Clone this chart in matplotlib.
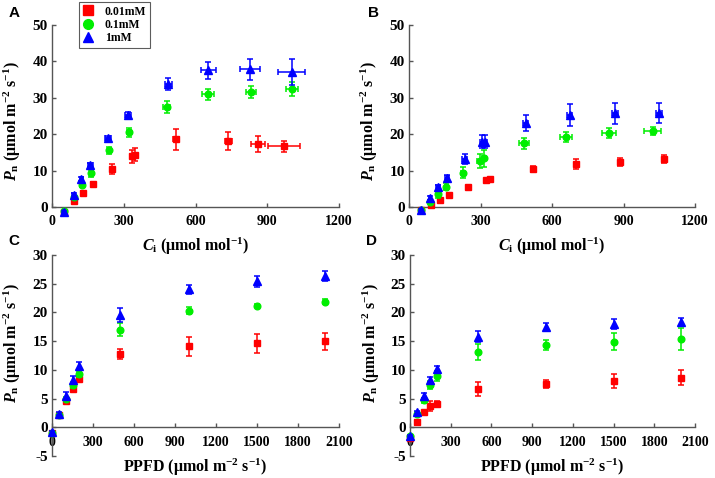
import matplotlib
matplotlib.use("Agg")
import matplotlib.pyplot as plt
from matplotlib.lines import Line2D

plt.rcParams['font.family'] = ['Liberation Serif', 'DejaVu Serif']
plt.rcParams['font.weight'] = 'bold'
plt.rcParams['axes.labelweight'] = 'bold'
plt.rcParams['axes.unicode_minus'] = False
plt.rcParams['mathtext.fontset'] = 'custom'
plt.rcParams['mathtext.rm'] = 'Liberation Serif:bold'
plt.rcParams['mathtext.it'] = 'Liberation Serif:italic:bold'
plt.rcParams['mathtext.bf'] = 'Liberation Serif:bold'
plt.rcParams['mathtext.default'] = 'rm'

series_names = ['0.01mM', '0.1mM', '1mM']
colors = ['#ff0000', '#00ee00', '#0000ff']
markers = ['s', 'o', '^']

# Panel A (Ci response)
ciA_red = [50, 94, 130, 170, 251, 335, 349, 520, 737, 860, 970]
pnA_red = [-1.4, 1.7, 4.0, 6.3, 10.5, 13.9, 14.4, 18.6, 18.1, 17.4, 16.7]
pnA_red_err = [0.3, 0.3, 0.3, 0.5, 1.3, 1.8, 1.8, 2.9, 2.4, 2.2, 1.5]
ciA_red_err = [3, 3, 3, 4, 5, 8, 8, 12, 15, 30, 66]

ciA_green = [50, 92, 126, 163, 240, 321, 480, 651, 832, 1003]
pnA_green = [-1.2, 2.8, 6.1, 9.3, 15.6, 20.5, 27.4, 31.0, 31.6, 32.4]
pnA_green_err = [0.3, 0.3, 0.5, 1.0, 1.0, 1.2, 1.6, 1.5, 1.6, 1.9]
ciA_green_err = [3, 3, 4, 5, 6, 8, 15, 25, 22, 25]

ciA_blue = [50, 90, 123, 160, 234, 318, 487, 654, 828, 1002]
pnA_blue = [-1.3, 3.2, 7.7, 11.6, 19.0, 25.4, 33.8, 37.6, 37.8, 37.1]
pnA_blue_err = [0.3, 0.6, 0.6, 0.6, 0.6, 0.6, 1.6, 2.3, 3.0, 3.7]
ciA_blue_err = [4, 6, 8, 10, 12, 14, 15, 30, 40, 55]

# Panel B (Ci response)
ciB_red = [50, 92, 130, 167, 246, 325, 339, 520, 702, 885, 1071]
pnB_red = [-0.9, 0.6, 2.0, 3.2, 5.5, 7.4, 7.7, 10.5, 11.8, 12.4, 13.2]
pnB_red_err = [0.2, 0.2, 0.3, 0.3, 0.3, 0.4, 0.4, 0.9, 1.3, 1.0, 1.0]
ciB_red_err = [3, 3, 3, 3, 4, 5, 5, 5, 5, 5, 5]

ciB_green = [50, 87, 123, 156, 225, 297, 315, 482, 657, 839, 1022]
pnB_green = [-0.7, 1.5, 3.5, 5.6, 9.4, 12.7, 13.4, 17.5, 19.2, 20.3, 21.0]
pnB_green_err = [0.3, 0.5, 0.9, 1.0, 1.5, 2.0, 2.3, 1.6, 1.3, 1.3, 1.1]
ciB_green_err = [3, 4, 5, 6, 8, 10, 10, 20, 25, 30, 35]

ciB_blue = [50, 88, 123, 160, 234, 308, 318, 490, 675, 864, 1050]
pnB_blue = [-0.8, 2.5, 5.4, 8.0, 13.2, 18.0, 18.0, 23.0, 25.3, 25.7, 25.9]
pnB_blue_err = [0.3, 0.6, 0.7, 0.9, 1.4, 1.7, 1.7, 2.2, 2.9, 2.8, 2.8]
ciB_blue_err = [4, 6, 8, 8, 10, 10, 10, 10, 10, 12, 12]

# Panels C and D (light response)
ppfd = [0, 50, 100, 150, 200, 500, 1000, 1500, 2000]

pnC_red = [-1.0, 2.2, 4.6, 6.7, 8.4, 12.8, 14.1, 14.6, 15.0]
pnC_red_err = [0.2, 0.2, 0.3, 0.3, 0.3, 0.9, 1.6, 1.7, 1.5]
pnC_green = [-1.0, 2.2, 4.9, 7.4, 9.3, 17.0, 20.3, 21.2, 21.9]
pnC_green_err = [0.2, 0.2, 0.4, 0.5, 0.5, 1.1, 0.6, 0.3, 0.4]
pnC_blue = [-0.9, 2.4, 5.5, 8.2, 10.7, 19.6, 24.0, 25.4, 26.4]
pnC_blue_err = [0.2, 0.3, 0.6, 0.7, 0.7, 1.2, 0.8, 1.0, 0.9]

pnD_red = [-1.8, 0.9, 2.6, 3.7, 4.1, 6.7, 7.6, 8.1, 8.6]
pnD_red_err = [0.2, 0.3, 0.3, 0.8, 0.5, 1.2, 0.7, 1.2, 1.3]
pnD_green = [-1.6, 2.4, 4.7, 7.4, 8.9, 13.1, 14.3, 14.9, 15.4]
pnD_green_err = [0.2, 0.3, 0.4, 0.7, 0.8, 1.4, 0.9, 1.5, 1.9]
pnD_blue = [-1.5, 2.6, 5.5, 8.3, 10.2, 15.8, 17.5, 18.0, 18.4]
pnD_blue_err = [0.2, 0.3, 0.4, 0.5, 0.4, 0.9, 0.7, 0.9, 0.6]

ci_ticks = [0, 300, 600, 900, 1200]
ppfd_ticks = [0, 300, 600, 900, 1200, 1500, 1800, 2100]
ci_yticks = [0, 10, 20, 30, 40, 50]
ppfd_yticks = [-5, 0, 5, 10, 15, 20, 25, 30]

W, H = 715, 478
fig = plt.figure(figsize=(W / 100, H / 100), dpi=100)


def px_axes(x0, x1, ytop, ybot):
    return fig.add_axes([x0 / W, 1 - ybot / H, (x1 - x0) / W, (ybot - ytop) / H])


axA = px_axes(52, 339, 25, 218)
axB = px_axes(409, 695, 25, 218)
axC = px_axes(52, 339, 255, 456)
axD = px_axes(410, 695, 255, 456)

ylab = r'$\mathit{P}_{\mathrm{n}}$ (μmol m$^{-2}$ s$^{-1}$)'
xlab_ci = r'$\mathit{C}_{\mathrm{i}}$ (μmol mol$^{-1}$)'
xlab_ppfd = r'PPFD (μmol m$^{-2}$ s$^{-1}$)'


def draw(ax, xs, ys, yerrs, xerrs):
    for i in range(3):
        ax.errorbar(xs[i], ys[i], yerr=yerrs[i], xerr=xerrs[i] if xerrs else None,
                    fmt=markers[i], color=colors[i], ms=4.8 if markers[i] != '^' else 5.3,
                    mec=colors[i], ecolor=colors[i], elinewidth=1.1, capsize=2.5,
                    capthick=1.1, clip_on=False, zorder=3 + i)


def style(ax, xlim, ylim, xt, yt, ybounds, xlabel):
    ax.set_xlim(*xlim)
    ax.set_ylim(*ylim)
    ax.set_xticks(xt)
    ax.set_xticklabels([str(v) for v in xt], fontweight='bold', fontsize=11)
    ax.set_yticks(yt)
    ax.set_yticklabels([str(v) for v in yt], fontweight='bold', fontsize=11)
    ax.spines['top'].set_visible(False)
    ax.spines['right'].set_visible(False)
    ax.spines['bottom'].set_position(('data', 0))
    ax.spines['left'].set_bounds(*ybounds)
    for s in ('left', 'bottom'):
        ax.spines[s].set_color('#555555')
        ax.spines[s].set_linewidth(1.0)
    ax.tick_params(direction='in', length=3, width=1.0, color='#555555')
    ax.tick_params(axis='x', pad=6)
    ax.tick_params(axis='y', pad=3)
    ax.set_ylabel(ylab, fontsize=11.5, fontweight='bold')
    ax.set_xlabel(xlabel, fontsize=11.5, fontweight='bold')


draw(axA, [ciA_red, ciA_green, ciA_blue], [pnA_red, pnA_green, pnA_blue],
     [pnA_red_err, pnA_green_err, pnA_blue_err], [ciA_red_err, ciA_green_err, ciA_blue_err])
draw(axB, [ciB_red, ciB_green, ciB_blue], [pnB_red, pnB_green, pnB_blue],
     [pnB_red_err, pnB_green_err, pnB_blue_err], [ciB_red_err, ciB_green_err, ciB_blue_err])
draw(axC, [ppfd] * 3, [pnC_red, pnC_green, pnC_blue],
     [pnC_red_err, pnC_green_err, pnC_blue_err], None)
draw(axD, [ppfd] * 3, [pnD_red, pnD_green, pnD_blue],
     [pnD_red_err, pnD_green_err, pnD_blue_err], None)

for ax in (axA, axB):
    style(ax, (0, 1200), (-3, 50), ci_ticks, ci_yticks, (0, 50), xlab_ci)
    ax.xaxis.set_label_coords(0.5, -0.09)
    ax.yaxis.set_label_coords(-0.10, 0.5)
for ax in (axC, axD):
    style(ax, (0, 2100), (-5, 30), ppfd_ticks, ppfd_yticks, (-5, 30), xlab_ppfd)
    ax.xaxis.set_label_coords(0.5, -0.005)
    ax.yaxis.set_label_coords(-0.10, 0.56)

for lbl, (x, y) in zip('ABCD', [(9, 13), (368, 13), (8, 241), (366, 241)]):
    fig.text(x / W, 1 - y / H, lbl, fontsize=11, fontweight='bold',
             family='Liberation Sans', ha='left', va='center')

handles = [Line2D([], [], marker=markers[i], color=colors[i], ls='none', ms=7)
           for i in range(3)]
leg = fig.legend(handles, series_names, loc='upper left',
                 bbox_to_anchor=(79 / W, 1 - 2 / H), frameon=True, fancybox=False,
                 edgecolor='#333333',
                 prop={'family': 'Liberation Serif', 'weight': 'bold', 'size': 8.5},
                 handlelength=1.0, handletextpad=0.9, borderpad=0.3, labelspacing=0.12,
                 borderaxespad=0)
leg.get_frame().set_linewidth(0.8)

fig.savefig('out.png', dpi=100)
